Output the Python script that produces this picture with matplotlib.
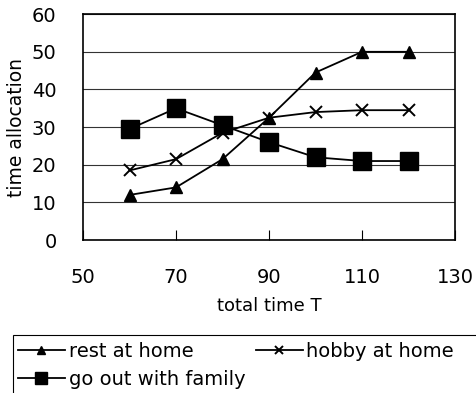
import numpy as np
import matplotlib.pyplot as plt
from matplotlib.patches import Rectangle

plt.rcParams['font.family'] = ['DejaVu Sans']

T = [60, 70, 80, 90, 100, 110, 120]
rest = [12, 14, 21.5, 32.5, 44.5, 50, 50]
hobby = [18.5, 21.5, 28.5, 32.5, 34, 34.5, 34.5]
family = [29.5, 35, 30.5, 26, 22, 21, 21]

xticks = [50, 70, 90, 110, 130]
yticks = [0, 10, 20, 30, 40, 50, 60]

fig = plt.figure(figsize=(4.77, 3.93), dpi=100)
ax = fig.add_axes([0.174, 0.389, 0.78, 0.575])

l1, = ax.plot(T, rest, color='black', lw=1.3, marker='^', ms=9, label='rest at home')
l2, = ax.plot(T, hobby, color='black', lw=1.3, marker='x', ms=9, mew=1.4, label='hobby at home')
l3, = ax.plot(T, family, color='black', lw=1.3, marker='s', ms=12.5, label='go out with family')

ax.set_xlim(50, 130)
ax.set_ylim(0, 60)
ax.set_xticks(xticks)
ax.set_yticks(yticks)
ax.yaxis.grid(True, color='#333333', lw=0.8)
ax.tick_params(axis='x', direction='in', length=7, pad=20, labelsize=14)
ax.tick_params(axis='y', length=0, pad=19, labelsize=14)
for s in ax.spines.values():
    s.set_linewidth(1.2)

ax.set_xlabel('total time T', fontsize=13, labelpad=7)
ax.set_ylabel('time allocation', fontsize=13.5, labelpad=4)

# legend box runs off the right and bottom edges
fig.patches.append(Rectangle((13 / 477, -0.1), 1.2, 0.1 + 1 - 335 / 393,
                             transform=fig.transFigure, fill=False,
                             edgecolor='black', lw=0.8))

leg = fig.legend([l1, l3, l2], ['rest at home', 'go out with family', 'hobby at home'],
                 ncol=2, loc='upper left', bbox_to_anchor=(18 / 477, 1 - 342 / 393),
                 frameon=False, fontsize=14, handlelength=2.4, handletextpad=0.2,
                 borderaxespad=0, borderpad=0, markerscale=0.7,
                 labelspacing=0.45, columnspacing=0.55)

fig.savefig('out.png', dpi=100)
